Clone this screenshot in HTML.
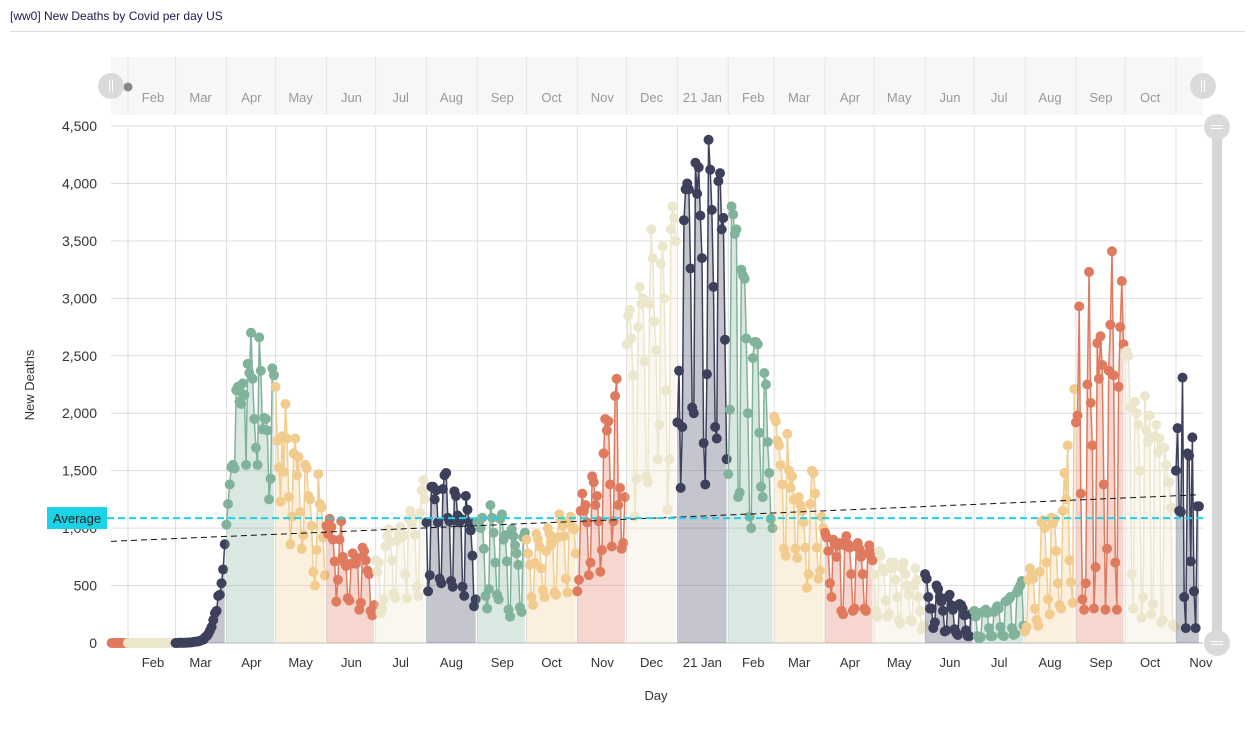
<!DOCTYPE html>
<html><head><meta charset="utf-8"><style>
body{margin:0;background:#fff;font-family:"Liberation Sans",sans-serif}
svg text{font-family:"Liberation Sans",sans-serif}
</style></head><body>
<svg id="c" width="1250" height="725" xmlns="http://www.w3.org/2000/svg">
<text x="10" y="20" font-size="12" fill="#1a1a4e">[ww0] New Deaths by Covid per day US</text>
<line x1="10" y1="31.5" x2="1245" y2="31.5" stroke="#ddd"/>
<g id="nav"></g>
<g id="grid"></g>
<g id="series"></g>
<g id="over"></g>
<text x="656" y="700" font-size="13" fill="#333" text-anchor="middle">Day</text>
<text transform="translate(34,385) rotate(-90)" font-size="13" fill="#333" text-anchor="middle">New Deaths</text>
</svg>
<script>
const yTicks=[0,500,1000,1500,2000,2500,3000,3500,4000,4500];
const monthLabels=['Feb','Mar','Apr','May','Jun','Jul','Aug','Sep','Oct','Nov','Dec','21 Jan','Feb','Mar','Apr','May','Jun','Jul','Aug','Sep','Oct','Nov'];
const monthStarts=['2020-01-22','2020-02-01','2020-03-01','2020-04-01','2020-05-01','2020-06-01','2020-07-01','2020-08-01','2020-09-01','2020-10-01','2020-11-01','2020-12-01','2021-01-01','2021-02-01','2021-03-01','2021-04-01','2021-05-01','2021-06-01','2021-07-01','2021-08-01','2021-09-01','2021-10-01','2021-11-01'];
const monthValues=[
[0,0,0,0,0,0,0,0,0,0],
[0,0,0,0,0,0,0,0,0,0,0,0,0,0,0,0,0,0,0,0,0,0,0,0,0,0,0,0,1],
[0,1,1,3,1,2,2,3,4,4,7,10,11,12,15,20,25,30,50,60,80,110,140,200,260,280,410,420,520,640,860],
[1030,1210,1380,1530,1550,1520,2200,2230,2100,2080,2260,2160,1550,2430,2350,2700,2300,1950,1700,1550,2660,2370,1860,1960,1950,1850,1250,1430,2390,2330],
[2230,1760,1530,1230,1800,1490,2080,1780,1270,860,1100,1650,1780,1460,1620,1140,820,940,1550,1520,1280,1250,1020,620,500,810,1470,1210,1180,920,590],
[1020,950,1080,1010,900,710,360,550,900,1060,750,700,670,390,370,690,780,700,690,740,290,350,830,800,720,630,600,280,240,330],
[720,620,700,260,300,380,840,930,990,880,720,430,390,890,950,1010,920,940,600,390,1080,1150,1040,1080,940,490,410,1130,1330,1420,1250],
[1050,450,590,1360,1360,1250,1330,1050,560,520,1340,1460,1480,1090,1060,540,490,1320,1280,1110,1050,1080,490,410,1280,1160,1050,980,760,320,380],
[1050,1050,1000,1090,820,410,300,470,1200,1090,960,700,420,380,1080,1120,900,940,710,290,230,990,930,850,780,680,310,270,920,960],
[900,780,680,400,330,700,950,900,840,650,460,400,800,1000,950,850,890,440,420,920,1120,1070,1020,930,560,440,1050,1100,1010,990,780],
[450,550,1150,1300,1150,1200,1050,590,700,1450,1400,1200,1280,1060,620,810,1650,1950,1850,1930,1380,840,1060,2150,2300,1200,1350,820,870,1270],
[2600,2850,2900,2650,2330,1100,1430,2750,3100,2950,3000,2450,1450,1400,2950,3600,3350,2800,2550,1600,1900,3300,3450,3000,2200,1160,1600,3600,3800,3700,3500],
[1920,2370,1350,1880,3680,3950,4000,3950,3260,2050,2000,4180,3910,4140,3720,3350,1740,1380,2340,4380,4120,3770,3100,1880,1780,4020,4090,3600,3700,2640,1600],
[1470,2030,3800,3730,3560,3600,1270,1310,3250,3200,3170,2650,2000,1100,1000,2480,2620,2620,2600,1830,1360,1270,2350,2250,1750,1480,1080,1000],
[1970,1930,1760,1720,1550,1380,820,760,1820,1500,1350,1450,1250,820,740,1270,1200,1150,1050,830,480,600,1210,1500,1480,1300,830,560,630,1100,1000],
[960,920,800,520,400,900,860,750,850,870,280,250,850,930,860,830,600,280,300,840,870,820,750,600,300,280,780,850,790,720],
[600,280,230,800,760,650,620,370,230,250,700,650,700,550,400,200,170,650,700,600,500,420,200,190,500,650,550,400,280,120,150],
[600,560,400,300,300,130,180,500,470,400,360,280,100,110,400,420,330,290,120,90,70,340,330,300,240,110,60,60,250,260],
[280,230,60,40,50,270,270,290,260,130,60,60,270,290,320,300,140,70,60,360,370,380,400,130,70,80,440,470,500,540,150],
[100,140,550,650,600,560,300,200,150,620,1050,1070,1000,700,380,250,1090,1040,1080,800,520,330,300,1150,1480,1250,1720,720,530,350,2210],
[1920,1980,2930,1300,380,290,520,2250,3230,2090,1720,300,660,2610,2300,2670,2420,1380,290,820,2370,2770,3410,2330,700,290,2230,2750,3150,2600],
[2500,2540,2500,2050,600,300,2100,2000,1900,1500,220,400,2150,1850,1750,1980,250,340,1800,1900,1660,1780,180,200,1700,1550,1400,1400,1180,160,140],
[1500,1870,1150,1140,2310,400,130,1650,1630,710,1790,450,130,1190,1190]
];
const palette=['#e07a5f','#ece6cc','#3d405b','#81b29a','#f2cc8f'];
const NS='http://www.w3.org/2000/svg';
const T0=Date.UTC(2020,0,22);
const dayOf=s=>{const p=s.split('-');return Math.round((Date.UTC(+p[0],+p[1]-1,+p[2])-T0)/864e5);};
const X0=111.6,PX=1.64,Y0=643,YT=126,YMAX=4500;
const xS=d=>X0+d*PX;
const yS=v=>Y0-(v/YMAX)*(Y0-YT);
function mk(tag,attrs,parent,txt){const e=document.createElementNS(NS,tag);for(const k in attrs)e.setAttribute(k,attrs[k]);if(txt!=null)e.textContent=txt;parent.appendChild(e);return e;}
const grid=document.getElementById('grid'),series=document.getElementById('series'),over=document.getElementById('over'),nav=document.getElementById('nav');
const XR=1203;
let r=mk('rect',{x:111,y:57,width:XR-111,height:58,fill:'#f7f7f7'},nav);


yTicks.forEach(v=>{
  let l=mk('line',{x1:111,x2:XR,y1:yS(v),y2:yS(v),stroke:v===0?'#bbb':'#ddd'},grid);
  
  
  let t=mk('text',{x:97,y:yS(v)+5,'font-size':14,fill:'#333','text-anchor':'end'},grid,v.toLocaleString('en-US'));
  
  
});
monthStarts.slice(1).forEach((s,i)=>{
  const d=dayOf(s),x=xS(d);
  let l=mk('line',{x1:x,x2:x,y1:YT,y2:Y0,stroke:'#ddd'},grid);
  
  
  let nl=mk('line',{x1:x,x2:x,y1:57,y2:115,stroke:'#e6e6e6'},nav);
  
  
  let t=mk('text',{x:x+25,y:667,'font-size':13,fill:'#333','text-anchor':'middle'},grid,monthLabels[i]);
  
  
  if(x+25<1185){
    let nt=mk('text',{x:x+25,y:102,'font-size':13,fill:'#999','text-anchor':'middle'},nav,monthLabels[i]);
    
    
  }
});
let all=[];
monthValues.forEach((vals,mi)=>{
  const d0=dayOf(monthStarts[mi]),col=palette[mi%5];
  const pts=vals.map((v,i)=>[xS(d0+i),yS(v)]);
  vals.forEach((v,i)=>all.push([d0+i,v]));
  const g=mk('g',{},series);
  
  
  let poly=mk('polygon',{points:pts.map(p=>p.join(',')).join(' ')+' '+pts[pts.length-1][0]+','+Y0+' '+pts[0][0]+','+Y0,fill:col,'fill-opacity':0.3},g);
  
  
  let pl=mk('polyline',{points:pts.map(p=>p.join(',')).join(' '),fill:'none',stroke:col,'stroke-width':1.5},g);
  
  
  pts.forEach(p=>{
    let c=mk('circle',{cx:p[0],cy:p[1],r:5,fill:col},g);
    
    
  });
});
const n=all.length;const avg=all.reduce((a,b)=>a+b[1],0)/n;
const mx=all.reduce((a,b)=>a+b[0],0)/n;
let sxy=0,sxx=0;all.forEach(([d,v])=>{sxy+=(d-mx)*(v-avg);sxx+=(d-mx)*(d-mx);});
const slope=sxy/sxx,icpt=avg-slope*mx;
const dEnd=all[n-1][0];
let tl=mk('line',{x1:111,y1:yS(icpt),x2:xS(dEnd),y2:yS(icpt+slope*dEnd),stroke:'#111','stroke-width':1,'stroke-dasharray':'6,4'},over);


let al=mk('line',{x1:107,y1:yS(avg),x2:XR,y2:yS(avg),stroke:'#1ad3e6','stroke-width':2,'stroke-dasharray':'7,4'},over);


let ab=mk('rect',{x:47,y:yS(avg)-11,width:60,height:22,fill:'#1ad3e6'},over);


let at=mk('text',{x:77,y:yS(avg)+5,'font-size':13,fill:'#222','text-anchor':'middle'},over,'Average');


function handle(cx,cy,name,vert){
  const g=mk('g',{},nav);
  
  
  mk('circle',{cx:cx,cy:cy,r:13,fill:'#dadada'},g);
  if(vert){mk('line',{x1:cx-1.5,x2:cx-1.5,y1:cy-6,y2:cy+6,stroke:'#fff'},g);mk('line',{x1:cx+1.5,x2:cx+1.5,y1:cy-6,y2:cy+6,stroke:'#fff'},g);}
  else{mk('line',{x1:cx-6,x2:cx+6,y1:cy-1.5,y2:cy-1.5,stroke:'#fff'},g);mk('line',{x1:cx-6,x2:cx+6,y1:cy+1.5,y2:cy+1.5,stroke:'#fff'},g);}
}
let tr=mk('rect',{x:1212,y:138,width:10,height:500,fill:'#d6d6d6'},nav);


let dot=mk('circle',{cx:128,cy:87,r:4.5,fill:'#888'},nav);


handle(111,86,'navigator-left-handle',true);
handle(1203,86,'navigator-right-handle',true);
handle(1217,127,'vertical-scroll-top-handle',false);
handle(1217,643,'vertical-scroll-bottom-handle',false);
</script>
</body></html>
